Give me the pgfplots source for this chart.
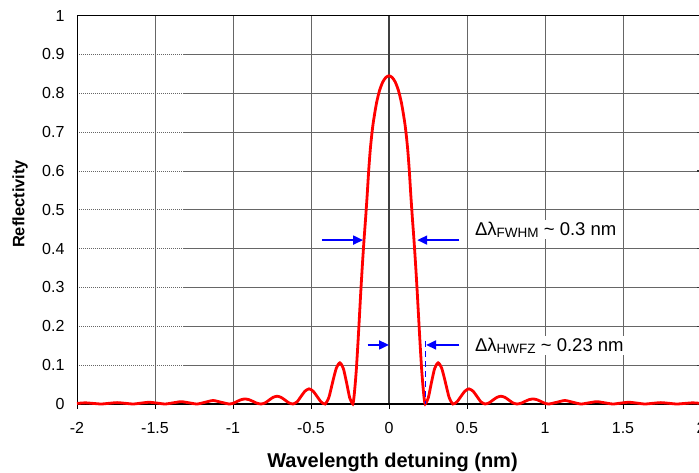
\documentclass[border=0pt]{standalone}
\usepackage{pgfplots}
\pgfplotsset{compat=1.18}
\usepackage{fontspec}
\setmainfont{Liberation Sans}
\usetikzlibrary{arrows.meta}

\begin{document}
\begin{tikzpicture}
\begin{axis}[
  scale only axis, width=624pt, height=388.4pt,
  xmin=-2, xmax=2, ymin=0, ymax=1,
  xtick={-2,-1.5,-1,-0.5,0,0.5,1,1.5,2},
  xticklabels={-2,-1.5,-1,-0.5,0,0.5,1,1.5,2},
  ytick={0,0.1,0.2,0.3,0.4,0.5,0.6,0.7,0.8,0.9,1},
  yticklabels={0,0.1,0.2,0.3,0.4,0.5,0.6,0.7,0.8,0.9,1},
  grid=major,
  grid style={black!60, line width=0.8pt, dash pattern=on 1.5pt off 0.5pt},
  axis line style={black, line width=0.9pt},
  xtick pos=bottom, ytick pos=left, tick align=outside,
  major tick length=5pt,
  xtick style={black, line width=0.9pt},
  ytick style={draw=none},
  ticklabel style={font=\fontsize{16}{19}\selectfont},
  xticklabel style={yshift=-10pt},
  yticklabel style={xshift=-4pt},
  xlabel={Wavelength detuning (nm)},
  ylabel={Reflectivity},
  xlabel style={font=\bfseries\fontsize{20}{24}\selectfont,
    at={(axis description cs:0.5056,-0.1506)}, anchor=center},
  ylabel style={font=\bfseries\fontsize{16.5}{20}\selectfont,
    at={(axis description cs:-0.0913,0.515)}, anchor=center},
  clip=false,
]

% vertical axis line through zero detuning, with crossing ticks
\draw[black!75, line width=1.5pt] (axis cs:0,0) -- (axis cs:0,1);
\pgfplotsinvokeforeach{0.1,0.2,0.3,0.4,0.5,0.6,0.7,0.8,0.9}{
  \draw[black!80, line width=1.2pt] (axis cs:0,#1) ++(-4pt,0) -- ++(8pt,0);
}
\draw[black, line width=1.4pt] (axis cs:-2,0) -- (axis cs:2,0);

% grating reflection spectrum
\addplot[red, line width=2.8pt, smooth, tension=0.4] table {
x y
-2.0 0.0015
-1.9475 0.003
-1.896 0.0015
-1.845 0
-1.794 0.0018
-1.7425 0.0035
-1.691 0.0018
-1.64 0
-1.589 0.0023
-1.5375 0.0045
-1.486 0.0023
-1.435 0
-1.384 0.003
-1.3325 0.006
-1.281 0.003
-1.23 0
-1.179 0.0045
-1.1275 0.009
-1.076 0.0045
-1.025 0
-0.999 0.0019
-0.974 0.0065
-0.948 0.0111
-0.9225 0.013
-0.897 0.0111
-0.871 0.0065
-0.846 0.0019
-0.82 0
-0.794 0.0029
-0.769 0.0100
-0.743 0.0171
-0.7175 0.020
-0.692 0.0171
-0.666 0.0100
-0.641 0.0029
-0.615 0
-0.589 0.0057
-0.564 0.0195
-0.538 0.0333
-0.5125 0.039
-0.487 0.0333
-0.461 0.0195
-0.436 0.0057
-0.41 0
-0.386 0.016
-0.362 0.055
-0.338 0.092
-0.315 0.106
-0.293 0.092
-0.272 0.055
-0.252 0.016
-0.232 0
-0.225 0.016
-0.218 0.045
-0.21 0.085
-0.20 0.150
-0.19 0.222
-0.18 0.295
-0.17 0.362
-0.16 0.423
-0.15 0.478
-0.14 0.537
-0.13 0.602
-0.12 0.655
-0.11 0.695
-0.10 0.727
-0.08 0.775
-0.06 0.808
-0.04 0.829
-0.02 0.841
0 0.845
0.02 0.841
0.04 0.829
0.06 0.808
0.08 0.775
0.10 0.727
0.11 0.695
0.12 0.655
0.13 0.602
0.14 0.537
0.15 0.478
0.16 0.423
0.17 0.362
0.18 0.295
0.19 0.222
0.20 0.150
0.21 0.085
0.218 0.045
0.225 0.016
0.232 0
0.252 0.016
0.272 0.055
0.293 0.092
0.315 0.106
0.338 0.092
0.362 0.055
0.386 0.016
0.41 0
0.436 0.0057
0.461 0.0195
0.487 0.0333
0.5125 0.039
0.538 0.0333
0.564 0.0195
0.589 0.0057
0.615 0
0.641 0.0029
0.666 0.0100
0.692 0.0171
0.7175 0.020
0.743 0.0171
0.769 0.0100
0.794 0.0029
0.82 0
0.846 0.0019
0.871 0.0065
0.897 0.0111
0.9225 0.013
0.948 0.0111
0.974 0.0065
0.999 0.0019
1.025 0
1.076 0.0045
1.1275 0.009
1.179 0.0045
1.23 0
1.281 0.003
1.3325 0.006
1.384 0.003
1.435 0
1.486 0.0023
1.5375 0.0045
1.589 0.0023
1.64 0
1.691 0.0018
1.7425 0.0035
1.794 0.0018
1.845 0
1.896 0.0015
1.9475 0.003
2.0 0.0015
};

% bandwidth markers
\draw[blue, line width=1.8pt, -{Triangle[length=10pt,width=9pt]}]
  (axis cs:-0.431,0.422) -- (axis cs:-0.166,0.422);
\draw[blue, line width=1.8pt, -{Triangle[length=10pt,width=9pt]}]
  (axis cs:0.451,0.422) -- (axis cs:0.181,0.422);
\draw[blue, line width=1.8pt, -{Triangle[length=10pt,width=9pt]}]
  (axis cs:-0.137,0.152) -- (axis cs:0,0.152);
\draw[blue, line width=1.8pt, -{Triangle[length=10pt,width=9pt]}]
  (axis cs:0.451,0.152) -- (axis cs:0.238,0.152);
\draw[blue, line width=1.3pt, dash pattern=on 6pt off 4pt]
  (axis cs:0.232,0.161) -- (axis cs:0.232,0);

\node[fill=white, inner sep=2pt, anchor=base west]
  at (axis cs:0.538,0.433)
  {\fontsize{18.5}{22}\selectfont Δλ\raisebox{-1.5pt}{\fontsize{13.5}{15}\selectfont FWHM} \textasciitilde{} 0.3 nm};
\node[fill=white, inner sep=2pt, anchor=base west]
  at (axis cs:0.538,0.135)
  {\fontsize{18.5}{22}\selectfont Δλ\raisebox{-1.5pt}{\fontsize{13.5}{15}\selectfont HWFZ} \textasciitilde{} 0.23 nm};
\end{axis}
\pgfresetboundingbox
\path[use as bounding box] (-77pt,-69pt) rectangle (622pt,404pt);
\end{tikzpicture}
\end{document}
